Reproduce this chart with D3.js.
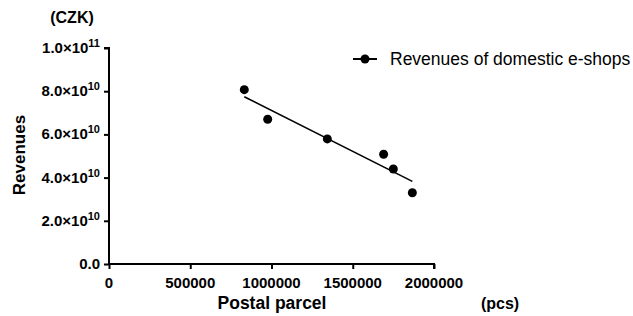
<!DOCTYPE html>
<html>
<head>
<meta charset="utf-8">
<script src="https://cdn.jsdelivr.net/npm/d3@7"></script>
<style>
  body { margin: 0; background: #fff; }
  svg text { font-family: "Liberation Sans", Arial, sans-serif; fill: #000; }
</style>
</head>
<body>
<div id="chart"></div>
<script>
// Data
const parcels = [832600, 976600, 1343600, 1690000, 1749800, 1866700];
const revenues = [8.07e10, 6.70e10, 5.79e10, 5.08e10, 4.40e10, 3.30e10];
const yTicks = [0, 2e10, 4e10, 6e10, 8e10, 1e11];
const yTickLabels = [["0.0", ""], ["2.0×10", "10"], ["4.0×10", "10"], ["6.0×10", "10"], ["8.0×10", "10"], ["1.0×10", "11"]];
const xTicks = [0, 500000, 1000000, 1500000, 2000000];
const seriesName = "Revenues of domestic e-shops";

const width = 633, height = 316;
const svg = d3.select("#chart").append("svg")
    .attr("width", width)
    .attr("height", height);

const x = d3.scaleLinear().domain([0, 2000000]).range([109, 434]);
const y = d3.scaleLinear().domain([0, 1e11]).range([264, 48]);

// Y axis
const yAxis = svg.append("g")
    .attr("transform", "translate(109,0)")
    .call(d3.axisLeft(y).tickValues(yTicks).tickSize(5).tickFormat(""));
yAxis.select(".domain").attr("stroke-width", 2).attr("d", `M-5,${y(1e11)}H0V${y(0)}`);
yAxis.selectAll(".tick line").attr("stroke-width", 2);

const yLab = svg.append("g").selectAll("text")
    .data(yTicks)
    .join("text")
    .attr("x", 100)
    .attr("y", d => y(d) + 5)
    .attr("text-anchor", "end")
    .style("font-size", "15px")
    .style("font-weight", "bold");
yLab.append("tspan").text((d, i) => yTickLabels[i][0]);
yLab.append("tspan")
    .attr("dy", -6)
    .style("font-size", "11px")
    .text((d, i) => yTickLabels[i][1]);

// X axis
const xAxis = svg.append("g")
    .attr("transform", `translate(0,${y(0)})`)
    .call(d3.axisBottom(x).tickValues(xTicks).tickSize(5).tickFormat(""));
xAxis.select(".domain").attr("stroke-width", 2).attr("d", `M${x(0) - 1},0H${x(2000000)}V5`);
xAxis.selectAll(".tick line").attr("stroke-width", 2);

svg.append("g").selectAll("text")
    .data(xTicks)
    .join("text")
    .attr("x", d => x(d))
    .attr("y", 288)
    .attr("text-anchor", "middle")
    .style("font-size", "15px")
    .style("font-weight", "bold")
    .text(d => d3.format("d")(d));

// Axis titles
svg.append("text")
    .attr("x", 72).attr("y", 23)
    .attr("text-anchor", "middle")
    .style("font-size", "16px").style("font-weight", "bold")
    .text("(CZK)");
svg.append("text")
    .attr("transform", "translate(25,155) rotate(-90)")
    .attr("text-anchor", "middle")
    .style("font-size", "17px").style("font-weight", "bold")
    .text("Revenues");
svg.append("text")
    .attr("x", 272).attr("y", 309)
    .attr("text-anchor", "middle")
    .style("font-size", "17.5px").style("font-weight", "bold")
    .text("Postal parcel");
svg.append("text")
    .attr("x", 500).attr("y", 309)
    .attr("text-anchor", "middle")
    .style("font-size", "16px").style("font-weight", "bold")
    .text("(pcs)");

// Linear regression line
const mx = d3.mean(parcels), my = d3.mean(revenues);
const slope = d3.sum(parcels, (v, i) => (v - mx) * (revenues[i] - my)) / d3.sum(parcels, v => (v - mx) ** 2);
const intercept = my - slope * mx;
const xr = d3.extent(parcels);
svg.append("line")
    .attr("x1", x(xr[0])).attr("y1", y(intercept + slope * xr[0]))
    .attr("x2", x(xr[1])).attr("y2", y(intercept + slope * xr[1]))
    .attr("stroke", "#000").attr("stroke-width", 1.6);

// Points
svg.append("g").selectAll("circle")
    .data(parcels)
    .join("circle")
    .attr("cx", d => x(d))
    .attr("cy", (d, i) => y(revenues[i]))
    .attr("r", 4.5)
    .attr("fill", "#000");

// Legend
const legend = svg.append("g").attr("transform", "translate(353,59)");
legend.append("line").attr("x1", 0).attr("x2", 24).attr("stroke", "#000").attr("stroke-width", 2);
legend.append("circle").attr("cx", 12).attr("r", 4.5).attr("fill", "#000");
legend.append("text")
    .attr("x", 37).attr("y", 6)
    .style("font-size", "17.5px")
    .text(seriesName);
</script>
</body>
</html>
